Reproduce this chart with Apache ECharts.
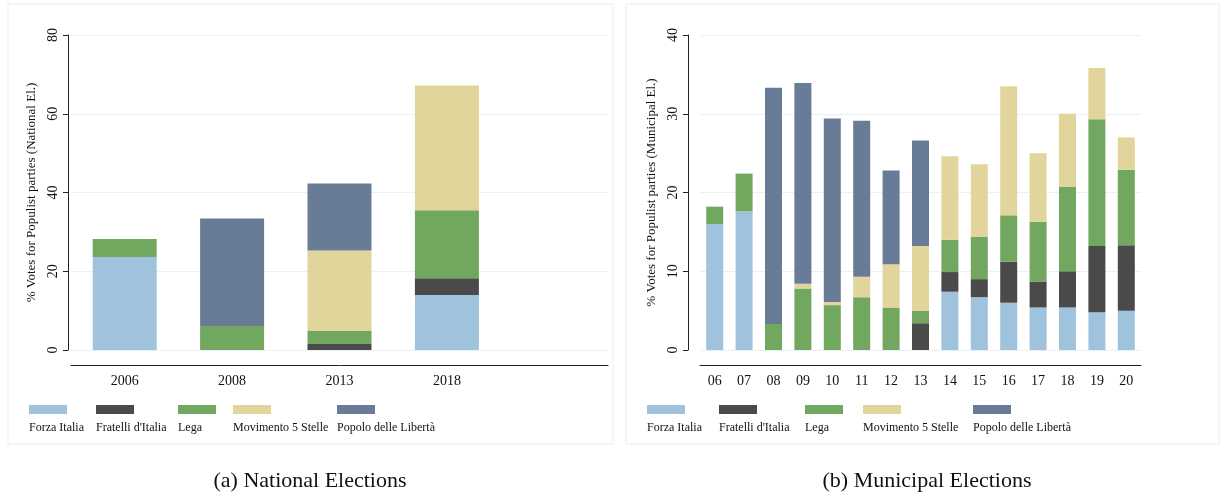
<!DOCTYPE html>
<html><head><meta charset="utf-8">
<script src="https://cdn.jsdelivr.net/npm/echarts@6/dist/echarts.min.js"></script>
<style>html,body{margin:0;background:#fff}#c{width:1225px;height:499px}</style>
</head><body><div id="c"></div>
<script>
// national elections (stack order bottom to top)
var natYears = ['2006', '2008', '2013', '2018', ''];
var natFI   = [23.6, 0, 0, 14.0];
var natFdI  = [0, 0, 1.5, 4.2];
var natLega = [4.6, 6.1, 3.3, 17.3];
var natM5S  = [0, 0, 20.5, 31.7];
var natPdL  = [0, 27.3, 17.0, 0];

// municipal elections
var munYears = ['06','07','08','09','10','11','12','13','14','15','16','17','18','19','20'];
var munFI   = [16.0, 17.6, 0, 0, 0, 0, 0, 0, 7.4, 6.7, 6.0, 5.4, 5.4, 4.8, 5.0];
var munFdI  = [0, 0, 0, 0, 0, 0, 0, 3.4, 2.5, 2.3, 5.2, 3.3, 4.6, 8.4, 8.3];
var munLega = [2.2, 4.8, 3.3, 7.8, 5.7, 6.7, 5.4, 1.6, 4.1, 5.4, 5.9, 7.6, 10.7, 16.1, 9.6];
var munM5S  = [0, 0, 0, 0.6, 0.4, 2.6, 5.5, 8.2, 10.6, 9.2, 16.4, 8.7, 9.3, 6.5, 4.1];
var munPdL  = [0, 0, 30.0, 25.5, 23.3, 19.8, 11.9, 13.4, 0, 0, 0, 0, 0, 0, 0];

var parties = ['Forza Italia', "Fratelli d'Italia", 'Lega', 'Movimento 5 Stelle', 'Popolo delle Libertà'];
var colors = ['#9fc3dc', '#4a4a4a', '#72a75f', '#e2d59b', '#687c98'];
var font = 'Liberation Serif';

var chart = echarts.init(document.getElementById('c'));
var natData = [natFI, natFdI, natLega, natM5S, natPdL];
var munData = [munFI, munFdI, munLega, munM5S, munPdL];

function yAx(idx, max, iv, name, off) {
  return {
    gridIndex: idx, type: 'value', min: 0, max: max, interval: iv, offset: off,
    name: name, nameLocation: 'middle', nameGap: 30, nameRotate: 90,
    nameTextStyle: { fontFamily: font, fontSize: 13, color: '#111' },
    axisLine: { show: true, lineStyle: { color: '#222' } },
    axisTick: { show: true, length: 5, lineStyle: { color: '#222' } },
    axisLabel: { rotate: 90, fontFamily: font, fontSize: 14, color: '#111', margin: 8 },
    splitLine: { lineStyle: { color: '#eaf0f4' } }
  };
}
function xAx(idx, cats) {
  return {
    gridIndex: idx, type: 'category', data: cats, offset: 15,
    axisLine: { onZero: false, lineStyle: { color: '#222' } }, axisTick: { show: false },
    axisLabel: { fontFamily: font, fontSize: 14, color: '#111', margin: 9 }
  };
}
var series = [];
parties.forEach(function (p, i) {
  series.push({ name: p, type: 'bar', stack: 'n', xAxisIndex: 0, yAxisIndex: 0, barWidth: 64,
    data: natData[i], itemStyle: { color: colors[i] }, silent: true });
  series.push({ name: p, type: 'bar', stack: 'm', xAxisIndex: 1, yAxisIndex: 1, barWidth: 17,
    data: munData[i], itemStyle: { color: colors[i] }, silent: true });
});

var legNat = [29, 96, 178, 233, 337], legMun = [647, 719, 805, 863, 973];
var graphics = [
  { type: 'rect', shape: { x: 8, y: 4, width: 605, height: 440 }, style: { fill: 'none', stroke: '#eeeeee' } },
  { type: 'rect', shape: { x: 626, y: 4, width: 593, height: 440 }, style: { fill: 'none', stroke: '#eeeeee' } },
  { type: 'text', x: 310, y: 481, style: { text: '(a) National Elections', font: '22px ' + font, fill: '#111', align: 'center', verticalAlign: 'middle' } },
  { type: 'text', x: 927, y: 481, style: { text: '(b) Municipal Elections', font: '22px ' + font, fill: '#111', align: 'center', verticalAlign: 'middle' } }
];
parties.forEach(function (p, i) {
  [legNat, legMun].forEach(function (arr) {
    graphics.push({ type: 'rect', shape: { x: arr[i], y: 405, width: 38, height: 9 }, style: { fill: colors[i] } });
    graphics.push({ type: 'text', x: arr[i], y: 428, style: { text: p, font: '12px ' + font, fill: '#111', verticalAlign: 'middle' } });
  });
});

chart.setOption({
  animation: false,
  grid: [
    { left: 71, top: 35, width: 537, height: 315 },
    { left: 700, top: 35, width: 441, height: 315 }
  ],
  xAxis: [xAx(0, natYears), xAx(1, munYears)],
  yAxis: [yAx(0, 80, 20, '% Votes for Populist parties (National El.)', 3),
          yAx(1, 40, 10, '% Votes for Populist parties (Municipal El.)', 12)],
  series: series,
  graphic: graphics
});
</script></body></html>
